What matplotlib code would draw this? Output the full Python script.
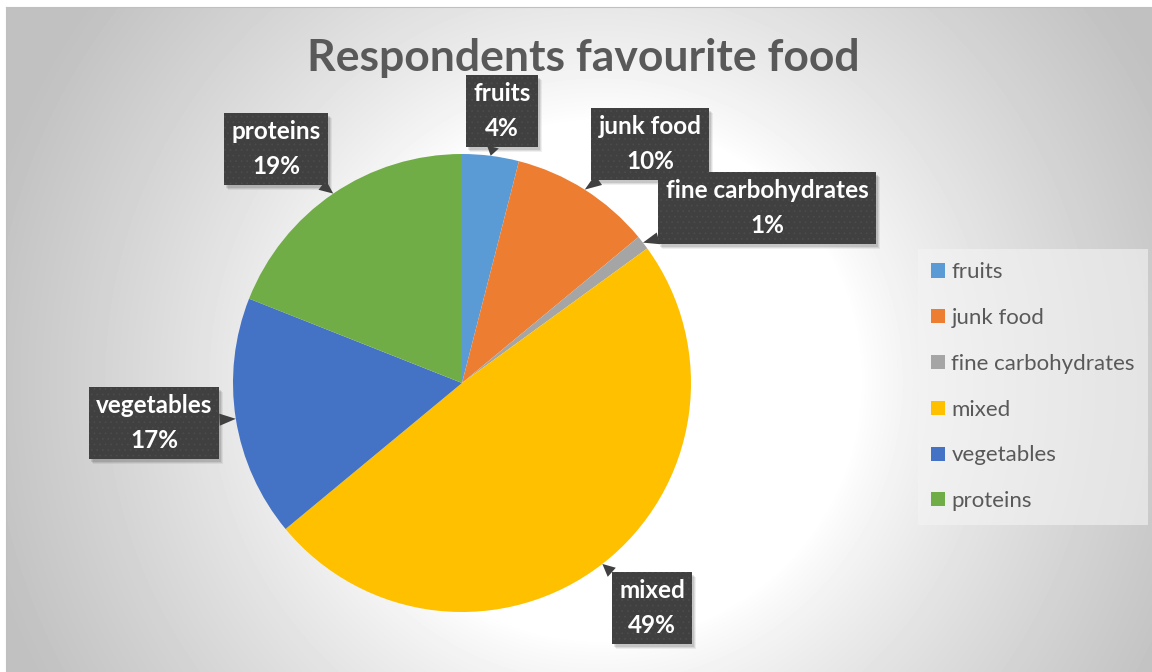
import numpy as np
import matplotlib.pyplot as plt
from matplotlib.patches import Patch, Rectangle
from matplotlib.transforms import IdentityTransform

# survey results
foods = ['fruits', 'junk food', 'fine carbohydrates', 'mixed', 'vegetables', 'proteins']
shares = [4, 10, 1, 49, 17, 19]
colors = ['#5B9BD5', '#ED7D31', '#A5A5A5', '#FFC000', '#4472C4', '#70AD47']

# callout box centres, in pixels from the top-left corner
label_pos = [(502, 111), (650, 144), (767, 208), (652, 608), (154, 423), (276, 149)]

W, H = 1152, 672
cx, cy, R = 462, 383, 229

plt.rcParams['font.family'] = ['Lato', 'DejaVu Sans']
plt.rcParams['hatch.linewidth'] = 0.5

fig = plt.figure(figsize=(W / 100, H / 100), dpi=100)

# grey radial gradient behind the chart
bg = fig.add_axes([6 / W, 0, 1 - 6 / W, 665 / H])
xx, yy = np.meshgrid(np.arange(6, W), np.arange(7, H))
t = np.hypot((xx - 600) / 576, (yy - 380) / 576)
shade = 255 - 62 * np.clip((t - 0.45) / 0.65, 0, 1) ** 0.8
bg.imshow(shade / 255, cmap='gray', vmin=0, vmax=1, aspect='auto',
          extent=(6, W, H, 7), interpolation='bilinear')
bg.set_xticks([])
bg.set_yticks([])
for side in ['right', 'bottom']:
    bg.spines[side].set_visible(False)
for side in ['top', 'left']:
    bg.spines[side].set_color('#c0c0c0')

ax = fig.add_axes([0, 0, 1, 1])
ax.patch.set_visible(False)
wedges, _ = ax.pie(shares, colors=colors, startangle=90, counterclock=False,
                   center=(cx, H - cy), radius=R)
ax.set_xlim(0, W)
ax.set_ylim(0, H)
ax.set_aspect('equal')
ax.axis('off')

labels = []
for w, name, pct, (lx, ly) in zip(wedges, foods, shares, label_pos):
    ang = np.deg2rad((w.theta1 + w.theta2) / 2)
    tip = (cx + R * np.cos(ang), H - cy + R * np.sin(ang))
    t_ = ax.annotate(f'{name}\n{pct}%', xy=tip, xytext=(lx, H - ly),
                     ha='center', va='center', multialignment='center',
                     color='white', fontsize=17.5, fontweight='bold', linespacing=1.6,
                     bbox=dict(boxstyle='square,pad=0.3', fc='#404040', ec='#4c4c4c',
                               lw=0, hatch='...'),
                     arrowprops=dict(arrowstyle='wedge,tail_width=0.5', fc='#404040',
                                     ec='none', shrinkA=0, shrinkB=0),
                     zorder=5)
    labels.append(t_)

# soft drop shadow under each callout box
fig.canvas.draw()
for t_ in labels:
    bb = t_.get_bbox_patch().get_window_extent()
    for k, a in [(5, 0.06), (4, 0.08), (3, 0.1)]:
        sh = Rectangle((bb.x0 + k - 1, bb.y0 - k), bb.width, bb.height,
                       transform=IdentityTransform(), fc='black', ec='none',
                       alpha=a, zorder=4, clip_on=False)
        ax.add_artist(sh)

fig.text(583 / W, 1 - 58 / H, 'Respondents favourite food', ha='center', va='center',
         fontsize=32, fontweight='bold', color='#595959')

handles = [Patch(facecolor=c, edgecolor='none') for c in colors]
leg = fig.legend(handles, foods, loc='upper left', bbox_to_anchor=(918 / W, 1 - 249 / H),
                 fontsize=16, frameon=True, fancybox=False, facecolor='#f4f4f4',
                 edgecolor='none', framealpha=0.6, handlelength=0.6, handleheight=0.6,
                 handletextpad=0.3, labelspacing=1.16, borderpad=0.6, borderaxespad=0)
for txt in leg.get_texts():
    txt.set_color('#595959')

fig.savefig('out.png', dpi=100)
